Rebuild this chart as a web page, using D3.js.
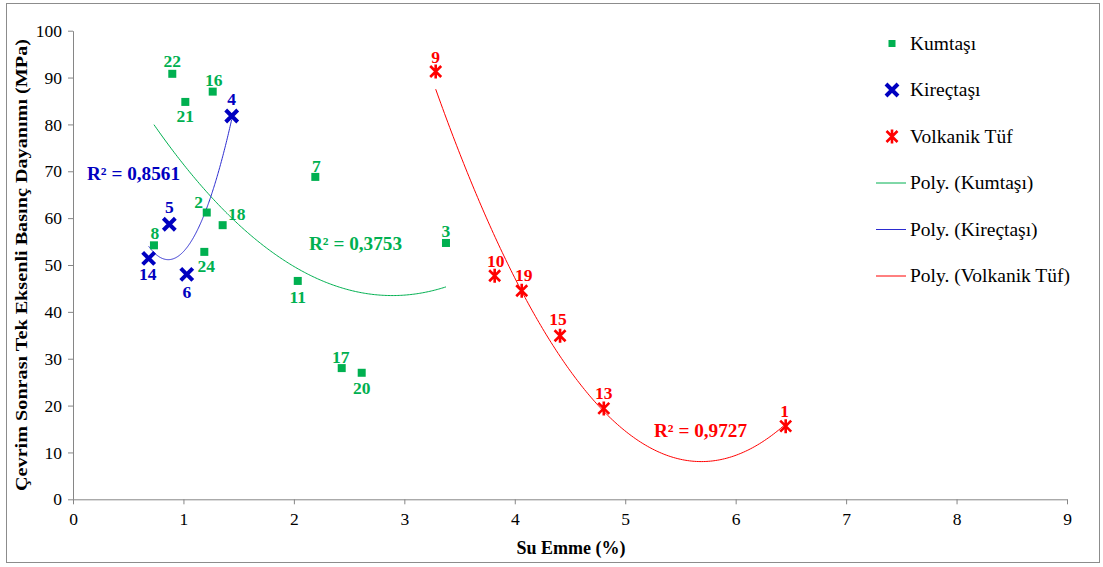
<!DOCTYPE html>
<html>
<head>
<meta charset="utf-8">
<script src="https://cdn.jsdelivr.net/npm/d3@7"></script>
<style>
  html, body { margin: 0; padding: 0; background: #fff; }
  svg { display: block; font-family: "Liberation Serif", "Times New Roman", serif; }
</style>
</head>
<body>
<svg id="chart" width="1103" height="567"></svg>
<script>
// Kumtaşı (sandstone) samples
const kumId = ["22", "21", "16", "7", "2", "18", "8", "24", "3", "11", "17", "20"];
const kumX  = [0.899, 1.017, 1.265, 2.194, 1.211, 1.355, 0.733, 1.189, 3.377, 2.035, 2.433, 2.614];
const kumY  = [90.8, 84.8, 87.0, 68.8, 61.2, 58.5, 54.2, 52.8, 54.7, 46.6, 28.0, 27.0];

// Kireçtaşı (limestone) samples
const kirId = ["4", "5", "14", "6"];
const kirX  = [1.437, 0.872, 0.685, 1.030];
const kirY  = [81.8, 58.7, 51.4, 48.0];

// Volkanik Tüf samples
const volId = ["9", "10", "19", "15", "13", "1"];
const volX  = [3.284, 3.818, 4.063, 4.410, 4.806, 6.453];
const volY  = [91.3, 47.7, 44.5, 34.9, 19.4, 15.6];

// Coefficients of determination of the 2nd-order trendlines
const r2Text = ["R² = 0,3753", "R² = 0,8561", "R² = 0,9727"];

const xTicks = [0, 1, 2, 3, 4, 5, 6, 7, 8, 9];
const yTicks = [0, 10, 20, 30, 40, 50, 60, 70, 80, 90, 100];

const legendNames = ["Kumtaşı", "Kireçtaşı", "Volkanik Tüf",
                     "Poly. (Kumtaşı)", "Poly. (Kireçtaşı)", "Poly. (Volkanik Tüf)"];

// ---- label placement (offset of each sample number from its marker) ----
const labelOffset = {
  kum: { "22": [0, -7], "21": [0, 20], "16": [1, -6], "7": [1, -5], "2": [-8, -5],
         "18": [14, -5], "8": [1, -6], "24": [2, 20], "3": [0, -6], "11": [0, 22],
         "17": [-1, -5], "20": [0, 21] },
  kir: { "4": [0, -11], "5": [0, -11], "14": [-1, 22], "6": [0, 24] },
  vol: { "9": [0, -8], "10": [1, -9], "19": [2, -10], "15": [-2, -11], "13": [0, -9], "1": [-1, -9] }
};

const GREEN = "#00b050", BLUE = "#0000c0", RED = "#ff0000";
const BLUE_LINE = "#2b2bd0";
const SERIF = "Liberation Serif, Times New Roman, serif";

const svg = d3.select("#chart");

// outer frame
svg.append("rect").attr("x", 6.5).attr("y", 3.5).attr("width", 1093).attr("height", 559)
  .attr("fill", "none").attr("stroke", "#8c8c8c").attr("stroke-width", 1);

const x = d3.scaleLinear().domain([0, 9]).range([73, 1067]);
const y = d3.scaleLinear().domain([0, 100]).range([499.3, 30.7]);

// axes
const axisColor = "#868686";
const gx = svg.append("g").attr("transform", `translate(0,${y(0)})`)
  .call(d3.axisBottom(x).tickValues(xTicks).tickSize(5).tickPadding(8).tickSizeOuter(0).tickFormat(d3.format("d")));
const gy = svg.append("g").attr("transform", `translate(${x(0)},0)`)
  .call(d3.axisLeft(y).tickValues(yTicks).tickSize(5).tickPadding(6).tickSizeOuter(0).tickFormat(d3.format("d")));
[gx, gy].forEach(g => {
  g.attr("font-family", SERIF);
  g.select(".domain").attr("stroke", axisColor);
  g.selectAll(".tick line").attr("stroke", axisColor);
  g.selectAll(".tick text").attr("fill", "#000").attr("font-size", 17.5);
});

// axis titles
svg.append("text").attr("x", 571).attr("y", 554).attr("text-anchor", "middle")
  .attr("font-size", 18).attr("font-weight", "bold").text("Su Emme (%)");
svg.append("text").attr("transform", "translate(27,265) rotate(-90)").attr("text-anchor", "middle")
  .attr("font-size", 17.5).attr("font-weight", "bold")
  .attr("textLength", 452).attr("lengthAdjust", "spacingAndGlyphs")
  .text("Çevrim Sonrası Tek Eksenli Basınç Dayanımı (MPa)");

// least-squares 2nd-order polynomial, solved from the normal equations
function polyfit2(xs, ys) {
  const n = xs.length;
  let s = [0, 0, 0, 0, 0], t = [0, 0, 0];
  for (let i = 0; i < n; i++) {
    let p = 1;
    for (let k = 0; k < 5; k++) { s[k] += p; if (k < 3) t[k] += p * ys[i]; p *= xs[i]; }
  }
  const A = [[s[0], s[1], s[2], t[0]], [s[1], s[2], s[3], t[1]], [s[2], s[3], s[4], t[2]]];
  for (let c = 0; c < 3; c++) {
    let piv = c;
    for (let r = c + 1; r < 3; r++) if (Math.abs(A[r][c]) > Math.abs(A[piv][c])) piv = r;
    [A[c], A[piv]] = [A[piv], A[c]];
    for (let r = 0; r < 3; r++) if (r !== c) {
      const f = A[r][c] / A[c][c];
      for (let k = c; k < 4; k++) A[r][k] -= f * A[c][k];
    }
  }
  const a0 = A[0][3] / A[0][0], a1 = A[1][3] / A[1][1], a2 = A[2][3] / A[2][2];
  return v => a0 + a1 * v + a2 * v * v;
}

function trend(xs, ys, color) {
  const f = polyfit2(xs, ys);
  const [lo, hi] = d3.extent(xs);
  const pts = d3.range(0, 201).map(i => { const v = lo + (hi - lo) * i / 200; return [v, f(v)]; });
  svg.append("path").datum(pts)
    .attr("d", d3.line().x(d => x(d[0])).y(d => y(d[1])))
    .attr("fill", "none").attr("stroke", color).attr("stroke-width", 1);
}
trend(kumX, kumY, GREEN);
trend(kirX, kirY, BLUE_LINE);
trend(volX, volY, RED);

// marker shapes
function square(g, color) {
  g.append("rect").attr("x", -4).attr("y", -4).attr("width", 8).attr("height", 8).attr("fill", color);
}
function cross(g, color) {
  g.append("path").attr("d", "M-6,-6L6,6M-6,6L6,-6")
    .attr("stroke", color).attr("stroke-width", 4).attr("fill", "none");
}
function star(g, color) {
  g.append("path").attr("d", "M-5.5,-5.5L5.5,5.5M-5.5,5.5L5.5,-5.5M0,-7L0,7")
    .attr("stroke", color).attr("stroke-width", 2.6).attr("fill", "none");
}

function series(ids, xs, ys, color, shape, offsets) {
  const data = ids.map((id, i) => ({ id, x: xs[i], y: ys[i] }));
  const g = svg.append("g");
  g.selectAll("g.pt").data(data).join("g").attr("class", "pt")
    .attr("transform", d => `translate(${x(d.x)},${y(d.y)})`)
    .each(function () { shape(d3.select(this), color); });
  g.selectAll("text").data(data).join("text")
    .attr("x", d => x(d.x) + offsets[d.id][0])
    .attr("y", d => y(d.y) + offsets[d.id][1])
    .attr("text-anchor", "middle").attr("font-size", 17.5).attr("font-weight", "bold")
    .attr("fill", color).text(d => d.id);
}
series(kumId, kumX, kumY, GREEN, square, labelOffset.kum);
series(kirId, kirX, kirY, BLUE, cross, labelOffset.kir);
series(volId, volX, volY, RED, star, labelOffset.vol);

// R² annotations
const r2Pos = [[309, 250, GREEN], [87, 180, BLUE], [654, 437, RED]];
r2Text.forEach((t, i) => {
  svg.append("text").attr("x", r2Pos[i][0]).attr("y", r2Pos[i][1])
    .attr("font-size", 18).attr("font-weight", "bold").attr("fill", r2Pos[i][2])
    .attr("textLength", 93).attr("lengthAdjust", "spacingAndGlyphs").text(t);
});

// legend
const leg = svg.append("g");
const legColors = [GREEN, BLUE, RED, GREEN, BLUE_LINE, RED];
const legShapes = [square, cross, star];
legendNames.forEach((name, i) => {
  const cy = 43.5 + i * 46.5;
  const row = leg.append("g").attr("transform", `translate(0,${cy})`);
  if (i < 3) {
    const m = row.append("g").attr("transform", "translate(892,0)");
    if (i === 0) m.append("rect").attr("x", -3.5).attr("y", -3.5).attr("width", 7).attr("height", 7).attr("fill", GREEN);
    else legShapes[i](m, legColors[i]);
  } else {
    row.append("line").attr("x1", 876).attr("x2", 906).attr("y1", 0).attr("y2", 0)
      .attr("stroke", legColors[i]).attr("stroke-width", 1);
  }
  row.append("text").attr("x", 910).attr("y", 6).attr("font-size", 19.5).attr("fill", "#000").text(name);
});
</script>
</body>
</html>
